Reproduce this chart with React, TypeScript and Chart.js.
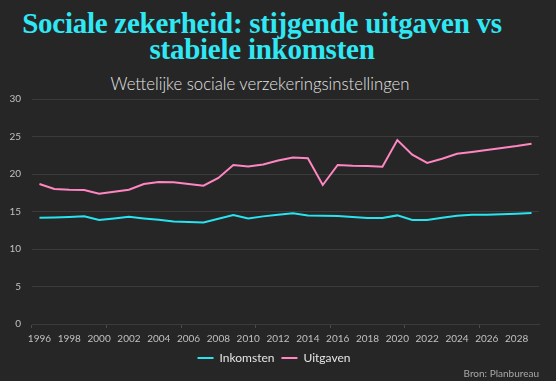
import React, { useEffect, useRef } from "react";
import { Chart, registerables } from "chart.js";

Chart.register(...registerables);

const years: string[] = [
  "1996", "1997", "1998", "1999", "2000", "2001", "2002", "2003", "2004", "2005",
  "2006", "2007", "2008", "2009", "2010", "2011", "2012", "2013", "2014", "2015",
  "2016", "2017", "2018", "2019", "2020", "2021", "2022", "2023", "2024", "2025",
  "2026", "2027", "2028", "2029",
];

const inkomsten: number[] = [
  14.17, 14.2, 14.26, 14.35, 13.87, 14.08, 14.3, 14.08, 13.9, 13.68,
  13.6, 13.55, 14.04, 14.53, 14.08, 14.35, 14.57, 14.75, 14.48, 14.44,
  14.4, 14.26, 14.13, 14.13, 14.48, 13.87, 13.87, 14.17, 14.44, 14.57,
  14.57, 14.62, 14.7, 14.8,
];

const uitgaven: number[] = [
  18.67, 18.0, 17.9, 17.87, 17.37, 17.64, 17.9, 18.67, 18.93, 18.9,
  18.67, 18.44, 19.47, 21.2, 21.0, 21.28, 21.8, 22.2, 22.1, 18.53,
  21.2, 21.1, 21.06, 20.97, 24.53, 22.57, 21.47, 22.04, 22.7, 22.93,
  23.2, 23.47, 23.73, 24.04,
];

const yTicks: number[] = [0, 5, 10, 15, 20, 25, 30];

const titleLines: string[] = ["Sociale zekerheid: stijgende uitgaven vs", "stabiele inkomsten"];
const subtitleText = "Wettelijke sociale verzekeringsinstellingen";
const sourceText = "Bron: Planbureau";

const BG = "#262626";
const CYAN = "#27e4f0";
const PINK = "#ff86c2";
const GRID = "#3b3b3b";

export default function App() {
  const canvasRef = useRef<HTMLCanvasElement | null>(null);

  useEffect(() => {
    document.body.style.margin = "0";
    document.body.style.background = BG;
    const canvas = canvasRef.current;
    if (!canvas) return;
    const chart = new Chart(canvas, {
      type: "line",
      data: {
        labels: years,
        datasets: [
          {
            label: "Inkomsten",
            data: inkomsten,
            borderColor: CYAN,
            backgroundColor: CYAN,
            borderWidth: 2,
            pointRadius: 0,
            tension: 0,
          },
          {
            label: "Uitgaven",
            data: uitgaven,
            borderColor: PINK,
            backgroundColor: PINK,
            borderWidth: 2,
            pointRadius: 0,
            tension: 0,
          },
        ],
      },
      options: {
        animation: false,
        responsive: false,
        maintainAspectRatio: false,
        layout: { padding: { top: 99, left: 9, right: 17, bottom: 7 } },
        plugins: {
          title: { display: false },
          tooltip: { enabled: false },
          legend: {
            display: true,
            position: "bottom",
            labels: {
              color: "#e6e6e6",
              font: { family: "Lato", size: 12 },
              boxWidth: 16,
              boxHeight: 2,
              padding: 7,
              generateLabels: (ch: any) =>
                Chart.defaults.plugins.legend.labels
                  .generateLabels(ch)
                  .map((l: any) => ({ ...l, lineWidth: 0, strokeStyle: "rgba(0,0,0,0)" })),
            },
          },
        },
        scales: {
          x: {
            type: "category",
            offset: true,
            afterFit: (axis: any) => {
              axis.height = 21;
            },
            grid: {
              display: true,
              offset: true,
              drawOnChartArea: false,
              drawTicks: true,
              tickLength: 4,
              tickColor: (ctx: any) => (ctx.index % 5 === 0 ? "#4a4a4a" : "rgba(0,0,0,0)"),
              color: GRID,
            },
            border: { display: true, color: GRID, width: 1 },
            ticks: {
              autoSkip: false,
              maxRotation: 0,
              padding: 5,
              color: "#c0c0c0",
              font: { family: "Lato", size: 10 },
              callback: function (this: any, _v: any, index: number) {
                return index % 2 === 0 ? years[index] : "";
              },
            },
          },
          y: {
            min: 0,
            max: 30,
            afterBuildTicks: (axis: any) => {
              axis.ticks = yTicks.map((v) => ({ value: v }));
            },
            afterFit: (axis: any) => {
              axis.width = 23;
            },
            grid: { color: GRID, drawTicks: false },
            border: { display: false },
            ticks: {
              padding: 11,
              color: "#c0c0c0",
              font: { family: "Lato", size: 10 },
            },
          },
        },
      },
    });
    return () => chart.destroy();
  }, []);

  return (
    <div style={{ position: "fixed", left: 0, top: 0, width: 556, height: 381, background: BG, overflow: "hidden" }}>
      <div
        style={{
          position: "absolute",
          left: 0,
          top: 10,
          width: 524,
          textAlign: "center",
          color: "#30e8f4",
          fontFamily: "'Liberation Serif', serif",
          fontWeight: 700,
          fontSize: 29,
          lineHeight: "26px",
          letterSpacing: "-0.25px",
          whiteSpace: "nowrap",
        }}
      >
        {titleLines[0]}
        <br />
        {titleLines[1]}
      </div>
      <div
        style={{
          position: "absolute",
          left: 0,
          top: 74,
          width: 520,
          textAlign: "center",
          color: "#e4e4e4",
          fontFamily: "Lato, sans-serif",
          fontWeight: 300,
          fontSize: 16.7,
          lineHeight: "20px",
          whiteSpace: "nowrap",
        }}
      >
        {subtitleText}
      </div>
      <canvas ref={canvasRef} width={556} height={381} style={{ position: "absolute", left: 0, top: 0, width: 556, height: 381 }} />
      <div
        style={{
          position: "absolute",
          right: 17,
          top: 367,
          color: "#a8a8a8",
          fontFamily: "Lato, sans-serif",
          fontSize: 10,
          lineHeight: "12px",
          whiteSpace: "nowrap",
        }}
      >
        {sourceText}
      </div>
    </div>
  );
}
